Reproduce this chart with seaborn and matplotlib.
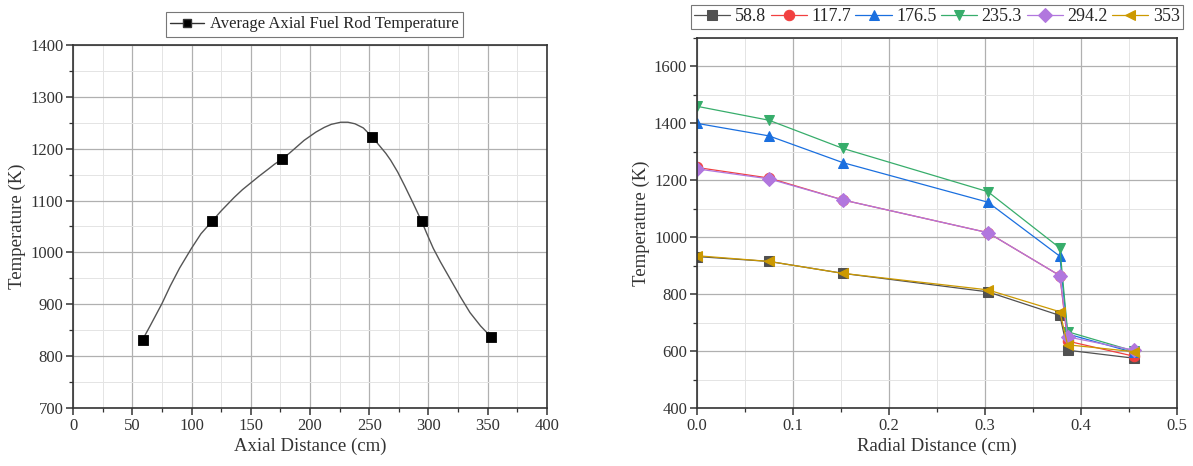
import numpy as np
import pandas as pd
import seaborn as sns
import matplotlib.pyplot as plt
from matplotlib.lines import Line2D
from matplotlib.ticker import MultipleLocator, AutoMinorLocator

# --- Left panel: average axial fuel rod temperature ---
axial_x = [58.8, 117.7, 176.5, 252.7, 294.2, 352.8]
axial_T = [832, 1061, 1180, 1222, 1060, 837]

# smooth curve
curve_x = [58.8, 65, 75, 82, 90, 100, 108, 117.7, 125, 136, 143, 150, 157, 165, 170,
           176.5, 183, 190, 195, 200, 205, 212, 218, 226, 232, 238, 245, 248, 252.7,
           256, 260, 264, 268, 274, 280, 287, 294.2, 299, 304, 310, 320, 327, 335,
           344, 352.8]
curve_T = [832, 858, 901, 935, 970, 1008, 1036, 1061, 1080, 1106, 1121, 1134, 1147,
           1161, 1170, 1180, 1192, 1206, 1216, 1224, 1232, 1241, 1247, 1251, 1251,
           1248, 1240, 1233, 1222, 1213, 1202, 1191, 1178, 1155, 1128, 1095, 1060,
           1034, 1008, 982, 942, 914, 884, 858, 837]

# --- Right panel: radial temperature at several axial positions ---
radial_x = [0.0, 0.075, 0.152, 0.303, 0.378, 0.386, 0.455]
series_names = ["58.8", "117.7", "176.5", "235.3", "294.2", "353"]
T_58 = [932, 915, 873, 808, 725, 603, 575]
T_117 = [1245, 1208, 1131, 1016, 865, 635, 582]
T_176 = [1400, 1356, 1262, 1123, 933, 660, 595]
T_235 = [1460, 1411, 1312, 1160, 962, 668, 600]
T_294 = [1240, 1205, 1131, 1016, 865, 650, 603]
T_353 = [935, 915, 873, 815, 738, 622, 598]

colors = ["#515151", "#F14040", "#1A6FDF", "#37AD6B", "#B177DE", "#CC9900"]
markers = ["s", "o", "^", "v", "D", "<"]

rows = []
for name, vals in zip(series_names, [T_58, T_117, T_176, T_235, T_294, T_353]):
    for r, t in zip(radial_x, vals):
        rows.append({"r": r, "T": t, "pos": name})
df = pd.DataFrame(rows)

sns.set_style("whitegrid")
plt.rcParams['font.family'] = ['Liberation Serif', 'DejaVu Serif']

fig = plt.figure(figsize=(11.93, 4.66), dpi=100)
ax1 = fig.add_axes([0.0612, 0.1245, 0.3973, 0.779])
ax2 = fig.add_axes([0.5842, 0.1245, 0.4024, 0.794])


def style_axes(ax):
    for s in ax.spines.values():
        s.set_color("#333333")
        s.set_linewidth(1.2)
    ax.grid(True, which="major", color="#b0b0b0", linewidth=0.9)
    ax.grid(True, which="minor", color="#e4e4e4", linewidth=0.7)
    ax.tick_params(which="major", direction="out", length=5, width=1.1, color="#333333",
                   labelsize=12, labelcolor="#333333", bottom=True, left=True, pad=2)
    ax.tick_params(which="minor", direction="out", length=3, width=0.9, color="#333333",
                   bottom=True, left=True)
    ax.set_axisbelow(True)


# left panel
sns.lineplot(x=curve_x, y=curve_T, ax=ax1, color="#555555", linewidth=1.0, sort=False)
sns.scatterplot(x=axial_x, y=axial_T, ax=ax1, color="black", marker="s", s=55,
                edgecolor="black", zorder=3)
ax1.set_xlim(0, 400)
ax1.set_ylim(700, 1400)
ax1.xaxis.set_major_locator(MultipleLocator(50))
ax1.yaxis.set_major_locator(MultipleLocator(100))
ax1.xaxis.set_minor_locator(AutoMinorLocator(2))
ax1.yaxis.set_minor_locator(AutoMinorLocator(2))
style_axes(ax1)
ax1.set_xlabel("Axial Distance (cm)", fontsize=13.5, color="#333333", labelpad=3)
ax1.set_ylabel("Temperature (K)", fontsize=13.5, color="#333333", labelpad=3)
h = Line2D([], [], color="#333333", linewidth=1.0, marker="s", markersize=6,
           markerfacecolor="black")
leg1 = ax1.legend([h], ["Average Axial Fuel Rod Temperature"], loc="lower center",
                  bbox_to_anchor=(0.51, 1.0), frameon=True, fancybox=False,
                  fontsize=12, handlelength=2.0, handletextpad=0.4, borderpad=0.25,
                  edgecolor="#555555")
leg1.get_frame().set_linewidth(0.8)

# right panel
sns.lineplot(data=df, x="r", y="T", hue="pos", style="pos", ax=ax2,
             palette=colors, markers=markers, dashes=False, markersize=7.5,
             markeredgecolor=None, linewidth=0.9, sort=False)
ax2.set_xlim(0, 0.5)
ax2.set_ylim(400, 1700)
ax2.xaxis.set_major_locator(MultipleLocator(0.1))
ax2.xaxis.set_minor_locator(AutoMinorLocator(2))
ax2.set_yticks([400, 600, 800, 1000, 1200, 1400, 1600])
ax2.yaxis.set_minor_locator(AutoMinorLocator(2))
style_axes(ax2)
ax2.set_xlabel("Radial Distance (cm)", fontsize=13.5, color="#333333", labelpad=3)
ax2.set_ylabel("Temperature (K)", fontsize=13.5, color="#333333", labelpad=3)
handles, labels = ax2.get_legend_handles_labels()
leg2 = ax2.legend(handles, labels, loc="lower center", bbox_to_anchor=(0.5, 1.0),
                  ncol=6, frameon=True, fancybox=False, fontsize=13,
                  handlelength=2.0, columnspacing=0.25, handletextpad=0.25,
                  borderpad=0.2, edgecolor="#555555")
leg2.get_frame().set_linewidth(0.8)

fig.savefig("out.png", dpi=100)
